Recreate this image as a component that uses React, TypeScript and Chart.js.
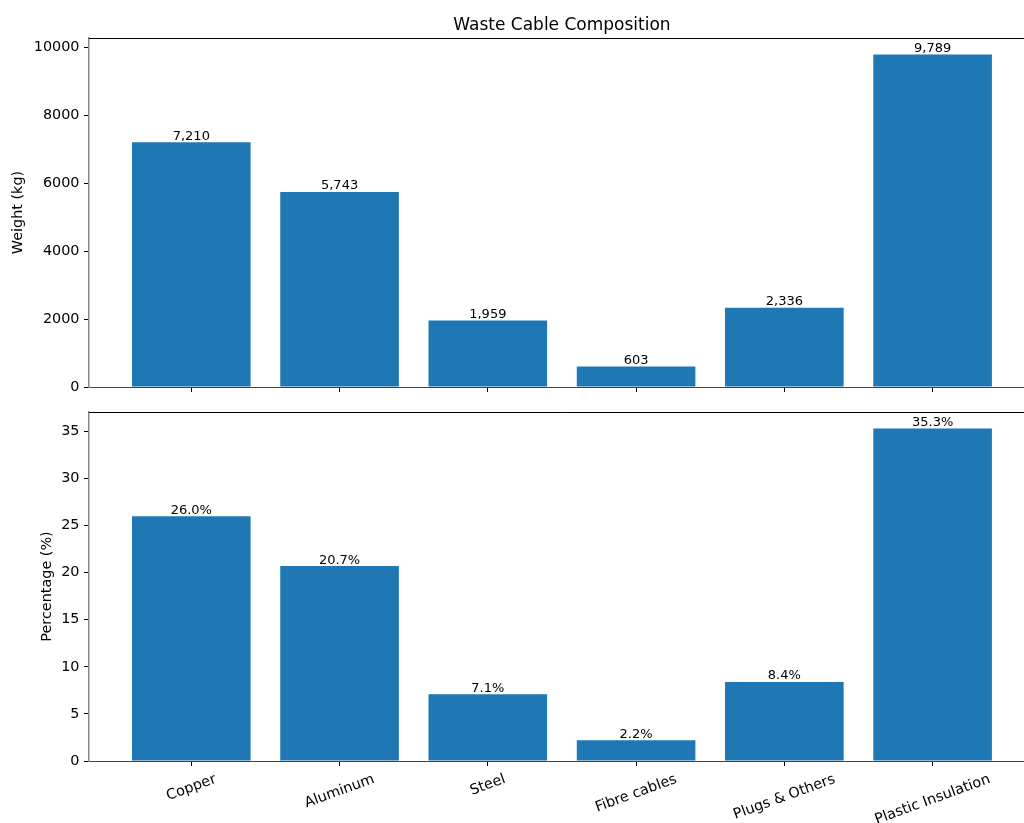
import React, { useEffect, useRef } from "react";
import { Chart, registerables } from "chart.js";

Chart.register(...registerables);

// ---- Data ----
const categories = ["Copper", "Aluminum", "Steel", "Fibre cables", "Plugs & Others", "Plastic Insulation"];
const weightsKg = [7210, 5743, 1959, 603, 2336, 9789];
const percentages = [26.0, 20.7, 7.1, 2.2, 8.4, 35.3];
const weightTicks = [0, 2000, 4000, 6000, 8000, 10000];
const percentTicks = [0, 5, 10, 15, 20, 25, 30, 35];
const weightLabels = weightsKg.map((v) => v.toLocaleString("en-US"));
const percentLabels = percentages.map((v) => v.toFixed(1) + "%");

const TITLE = "Waste Cable Composition";
const Y_TITLE_TOP = "Weight (kg)";
const Y_TITLE_BOTTOM = "Percentage (%)";

// ---- Style ----
const FONT = "'DejaVu Sans', 'Liberation Sans', sans-serif";
const BAR_COLOR = "#1f77b4";
const TICK_SIZE = 14.4;
const CANVAS_W = 1040;
const AXIS_LEFT = 89;
const PAD_RIGHT = 5.1;

const n = categories.length;
const xMargin = 0.05 * (n - 1 + 0.8);
const X_MIN = -0.4 - xMargin;
const X_MAX = n - 1 + 0.4 + xMargin;

const spinePlugin = {
  id: "spines",
  afterDraw(chart: any) {
    const { ctx, chartArea } = chart;
    ctx.save();
    ctx.strokeStyle = "#000";
    ctx.lineWidth = 1;
    ctx.beginPath();
    ctx.moveTo(chartArea.left, Math.round(chartArea.top) + 0.5);
    ctx.lineTo(chartArea.right, Math.round(chartArea.top) + 0.5);
    ctx.moveTo(Math.round(chartArea.right) - 0.5, chartArea.top);
    ctx.lineTo(Math.round(chartArea.right) - 0.5, chartArea.bottom);
    ctx.stroke();
    ctx.restore();
  },
};

function barLabelPlugin(labels: string[]) {
  return {
    id: "barLabels",
    afterDatasetsDraw(chart: any) {
      const { ctx } = chart;
      const meta = chart.getDatasetMeta(0);
      ctx.save();
      ctx.font = `13px ${FONT}`;
      ctx.fillStyle = "#000";
      ctx.textAlign = "center";
      ctx.textBaseline = "alphabetic";
      meta.data.forEach((el: any, i: number) => {
        ctx.fillText(labels[i], el.x, el.y - 2.5);
      });
      ctx.restore();
    },
  };
}

const xLabelPlugin = {
  id: "xLabels",
  afterDraw(chart: any) {
    const { ctx } = chart;
    const s = chart.scales.x;
    const ang = (20 * Math.PI) / 180;
    const top = s.top + 10;
    ctx.save();
    ctx.font = `${TICK_SIZE}px ${FONT}`;
    ctx.fillStyle = "#000";
    ctx.textAlign = "center";
    ctx.textBaseline = "middle";
    categories.forEach((c, i) => {
      const px = s.getPixelForValue(i);
      const w = ctx.measureText(c).width;
      const h = TICK_SIZE * 1.17;
      const bh = w * Math.sin(ang) + h * Math.cos(ang);
      ctx.save();
      ctx.translate(px, top + bh / 2);
      ctx.rotate(-ang);
      ctx.fillText(c, 0, 0);
      ctx.restore();
    });
    ctx.restore();
  },
};

function makeConfig(opts: {
  values: number[];
  labels: string[];
  yTicks: number[];
  yTitle: string;
  yTitlePad: number;
  xAxisHeight: number;
  padTop: number;
  withTitle: boolean;
  withXLabels: boolean;
}): any {
  const maxV = Math.max(...opts.values);
  const plugins: any[] = [spinePlugin, barLabelPlugin(opts.labels)];
  if (opts.withXLabels) plugins.push(xLabelPlugin);
  return {
    type: "bar",
    data: {
      datasets: [
        {
          data: opts.values.map((v, i) => ({ x: i, y: v })),
          backgroundColor: BAR_COLOR,
          borderWidth: 0,
          barPercentage: 0.8,
          categoryPercentage: 1.0,
        },
      ],
    },
    plugins,
    options: {
      responsive: false,
      animation: false,
      events: [],
      layout: { padding: { top: opts.padTop, left: 0, right: PAD_RIGHT, bottom: 0 } },
      plugins: {
        legend: { display: false },
        tooltip: { enabled: false },
        title: {
          display: opts.withTitle,
          text: TITLE,
          fullSize: false,
          color: "#000",
          font: { family: FONT, size: 17, weight: "normal", lineHeight: 1.2 },
          padding: { top: 15, bottom: 2.6 },
        },
      },
      scales: {
        x: {
          type: "linear",
          min: X_MIN,
          max: X_MAX,
          offset: false,
          afterBuildTicks: (s: any) => {
            s.ticks = categories.map((_, i) => ({ value: i }));
          },
          afterFit: (s: any) => {
            s.height = opts.xAxisHeight;
            s.paddingLeft = 0;
            s.paddingRight = 0;
          },
          ticks: { display: false },
          grid: {
            offset: false,
            drawOnChartArea: false,
            drawTicks: true,
            tickLength: 5,
            color: "#000",
            lineWidth: 1,
          },
          border: { display: true, color: "#444", width: 1 },
        },
        y: {
          type: "linear",
          min: 0,
          max: maxV * 1.05,
          afterBuildTicks: (s: any) => {
            s.ticks = opts.yTicks.map((v) => ({ value: v }));
          },
          afterFit: (s: any) => {
            s.width = AXIS_LEFT;
            s.paddingTop = 0;
            s.paddingBottom = 0;
          },
          ticks: {
            padding: 4.5,
            color: "#000",
            font: { family: FONT, size: TICK_SIZE },
            callback: (v: any) => String(v),
          },
          grid: { drawOnChartArea: false, drawTicks: true, tickLength: 5, color: "#000", lineWidth: 1 },
          border: { display: true, color: "#888", width: 1.5 },
          title: {
            display: true,
            text: opts.yTitle,
            color: "#000",
            font: { family: FONT, size: TICK_SIZE, lineHeight: 1.2 },
            padding: { top: opts.yTitlePad, bottom: 0 },
          },
        },
      },
    },
  };
}

export default function App() {
  const topRef = useRef<HTMLCanvasElement | null>(null);
  const botRef = useRef<HTMLCanvasElement | null>(null);

  useEffect(() => {
    const top = new Chart(
      topRef.current as HTMLCanvasElement,
      makeConfig({
        values: weightsKg,
        labels: weightLabels,
        yTicks: weightTicks,
        yTitle: Y_TITLE_TOP,
        yTitlePad: 9.4,
        xAxisHeight: 18,
        padTop: 0,
        withTitle: true,
        withXLabels: false,
      })
    );
    const bot = new Chart(
      botRef.current as HTMLCanvasElement,
      makeConfig({
        values: percentages,
        labels: percentLabels,
        yTicks: percentTicks,
        yTitle: Y_TITLE_BOTTOM,
        yTitlePad: 38.4,
        xAxisHeight: 62,
        padTop: 22,
        withTitle: false,
        withXLabels: true,
      })
    );
    return () => {
      top.destroy();
      bot.destroy();
    };
  }, []);

  return (
    <div
      style={{
        position: "fixed",
        left: 0,
        top: 0,
        width: 1024,
        height: 823,
        overflow: "hidden",
        background: "#fff",
      }}
    >
      <div style={{ position: "absolute", left: 0, top: 0 }}>
        <canvas ref={topRef} width={CANVAS_W} height={405} style={{ display: "block" }} />
      </div>
      <div style={{ position: "absolute", left: 0, top: 390 }}>
        <canvas ref={botRef} width={CANVAS_W} height={433} style={{ display: "block" }} />
      </div>
    </div>
  );
}
